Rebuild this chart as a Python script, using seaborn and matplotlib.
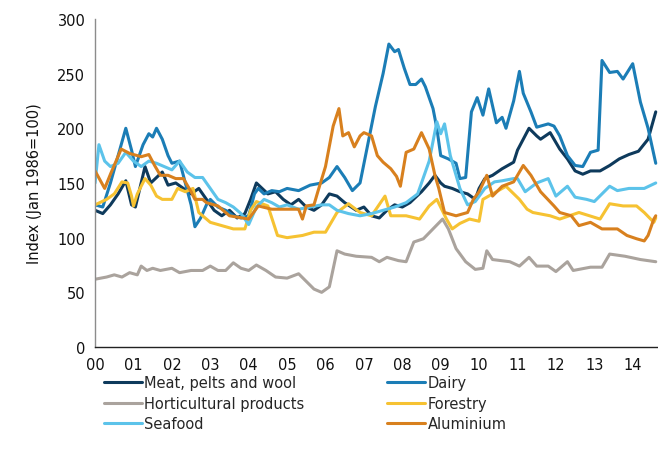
import matplotlib
matplotlib.use("Agg")
import matplotlib.pyplot as plt
import seaborn as sns
import pandas as pd

# ---- data (years since Jan 2000, index value) ----
meat_t = [0, 0.2, 0.4, 0.6, 0.8, 0.95, 1.05, 1.2, 1.3, 1.45, 1.6, 1.75, 1.9, 2.1, 2.3, 2.5, 2.7, 2.9, 3.1, 3.3, 3.5, 3.7, 3.9, 4.05, 4.2, 4.35, 4.5, 4.7, 4.9, 5.1, 5.3, 5.5, 5.7, 5.9, 6.1, 6.3, 6.5, 6.8, 7.0, 7.2, 7.4, 7.6, 7.8, 8.0, 8.2, 8.5, 8.7, 8.85, 9.0, 9.1, 9.3, 9.5, 9.7, 9.9, 10.0, 10.15, 10.35, 10.6, 10.9, 11.0, 11.15, 11.3, 11.5, 11.6, 11.85, 11.95, 12.1, 12.3, 12.5, 12.7, 12.9, 13.15, 13.4, 13.65, 13.9, 14.15, 14.4, 14.6]
meat_v = [125, 122, 130, 140, 152, 130, 128, 150, 165, 150, 155, 160, 148, 150, 145, 140, 145, 135, 125, 120, 125, 118, 122, 135, 150, 145, 140, 142, 135, 130, 135, 128, 125, 130, 140, 138, 132, 125, 128, 120, 118, 125, 130, 128, 132, 142, 150, 157, 150, 147, 145, 142, 140, 135, 145, 154, 157, 163, 169, 180, 190, 200, 193, 190, 196, 190, 181, 172, 161, 158, 161, 161, 166, 172, 176, 179, 190, 215]

dairy_t = [0, 0.2, 0.4, 0.6, 0.8, 0.95, 1.05, 1.25, 1.4, 1.5, 1.6, 1.75, 1.9, 2.0, 2.2, 2.35, 2.5, 2.6, 2.75, 2.9, 3.0, 3.2, 3.4, 3.6, 3.8, 4.0, 4.15, 4.25, 4.4, 4.6, 4.8, 5.0, 5.3, 5.6, 5.9, 6.1, 6.3, 6.5, 6.7, 6.9, 7.1, 7.3, 7.5, 7.65, 7.8, 7.9, 8.05, 8.2, 8.35, 8.5, 8.6, 8.8, 8.9, 9.0, 9.2, 9.4, 9.5, 9.65, 9.8, 9.95, 10.1, 10.25, 10.45, 10.6, 10.7, 10.9, 11.05, 11.15, 11.35, 11.5, 11.8, 11.95, 12.1, 12.3, 12.5, 12.7, 12.9, 13.1, 13.2, 13.4, 13.6, 13.75, 14.0, 14.2, 14.4, 14.6]
dairy_v = [130, 128, 150, 175, 200, 180, 165, 185, 195, 192, 200, 190, 175, 168, 170, 150, 130, 110, 118, 130, 135, 128, 125, 120, 118, 120, 140, 145, 140, 143, 142, 145, 143, 148, 150, 155, 165, 155, 143, 150, 185, 220, 250, 277, 270, 272, 255, 240, 240, 245, 238, 218, 200, 175, 172, 168, 154, 155, 215, 228, 212, 236, 205, 210, 200, 225, 252, 232, 215, 201, 204, 202, 193, 175, 166, 165, 178, 180, 262, 251, 252, 245, 259, 224, 200, 168]

horti_t = [0, 0.3, 0.5, 0.7, 0.9, 1.1, 1.2, 1.35, 1.5, 1.7, 2.0, 2.2, 2.5, 2.8, 3.0, 3.2, 3.4, 3.6, 3.8, 4.0, 4.2, 4.45, 4.7, 5.0, 5.3, 5.5, 5.7, 5.9, 6.1, 6.3, 6.5, 6.8, 7.2, 7.4, 7.6, 7.9, 8.1, 8.3, 8.55, 8.8, 9.05, 9.2, 9.4, 9.65, 9.9, 10.1, 10.2, 10.35, 10.8, 11.05, 11.3, 11.5, 11.8, 12.0, 12.3, 12.45, 12.9, 13.2, 13.4, 13.8, 14.2, 14.6]
horti_v = [62, 64, 66, 64, 68, 66, 74, 70, 72, 70, 72, 68, 70, 70, 74, 70, 70, 77, 72, 70, 75, 70, 64, 63, 67, 60, 53, 50, 55, 88, 85, 83, 82, 78, 82, 79, 78, 96, 99, 108, 117, 108, 90, 78, 71, 72, 88, 80, 78, 74, 82, 74, 74, 69, 78, 70, 73, 73, 85, 83, 80, 78]

forest_t = [0, 0.3, 0.5, 0.7, 0.85, 0.95, 1.0, 1.1, 1.3, 1.45, 1.6, 1.75, 2.0, 2.15, 2.35, 2.55, 2.7, 3.0, 3.3, 3.6, 3.9, 4.05, 4.2, 4.5, 4.75, 5.0, 5.4, 5.7, 6.0, 6.3, 6.6, 6.9, 7.2, 7.55, 7.7, 8.1, 8.45, 8.7, 8.9, 9.15, 9.3, 9.5, 9.75, 10.0, 10.1, 10.45, 10.7, 11.05, 11.25, 11.4, 11.85, 12.1, 12.6, 13.15, 13.4, 13.75, 14.1, 14.3, 14.55, 14.6]
forest_v = [130, 135, 140, 151, 150, 138, 129, 140, 154, 148, 138, 135, 135, 145, 142, 145, 123, 114, 111, 108, 108, 125, 133, 129, 102, 100, 102, 105, 105, 123, 131, 123, 120, 138, 120, 120, 117, 129, 135, 117, 108, 113, 117, 115, 135, 142, 147, 135, 126, 123, 120, 117, 123, 117, 131, 129, 129, 123, 114, 118]

sea_t = [0, 0.1, 0.25, 0.4, 0.6, 0.8, 1.0, 1.2, 1.4, 1.6, 1.8, 2.0, 2.2, 2.4, 2.6, 2.8, 3.0, 3.2, 3.4, 3.6, 3.8, 4.0, 4.2, 4.4, 4.6, 4.8, 5.0, 5.3, 5.6, 5.9, 6.1, 6.3, 6.6, 6.9, 7.2, 7.5, 7.8, 8.1, 8.4, 8.7, 8.9, 9.0, 9.1, 9.25, 9.5, 9.7, 9.9, 10.15, 10.4, 10.6, 10.9, 11.0, 11.2, 11.5, 11.8, 12.0, 12.3, 12.5, 12.8, 13.0, 13.4, 13.6, 13.9, 14.3, 14.6]
sea_v = [150, 185, 170, 165, 168, 178, 170, 165, 170, 168, 165, 162, 170, 160, 155, 155, 145, 135, 132, 128, 122, 112, 128, 135, 132, 128, 130, 126, 128, 130, 130, 125, 122, 120, 122, 125, 128, 132, 140, 170, 206, 195, 204, 175, 145, 130, 133, 145, 151, 152, 154, 154, 142, 150, 154, 138, 147, 137, 135, 133, 147, 143, 145, 145, 150]

alu_t = [0, 0.25, 0.4, 0.68, 0.9, 1.2, 1.4, 1.55, 1.7, 1.9, 2.1, 2.3, 2.5, 2.6, 2.8, 2.9, 3.2, 3.5, 4.0, 4.25, 4.6, 5.0, 5.3, 5.4, 5.5, 5.7, 5.8, 6.0, 6.2, 6.35, 6.45, 6.6, 6.75, 6.9, 7.0, 7.2, 7.35, 7.5, 7.7, 7.85, 7.95, 8.1, 8.3, 8.5, 8.7, 8.85, 8.95, 9.1, 9.4, 9.7, 9.85, 10.0, 10.2, 10.35, 10.6, 10.9, 11.15, 11.35, 11.6, 11.95, 12.1, 12.4, 12.6, 12.9, 13.2, 13.6, 13.85, 14.1, 14.3, 14.4, 14.55, 14.6]
alu_v = [161, 145, 158, 181, 177, 174, 176, 166, 157, 157, 154, 154, 142, 135, 135, 132, 129, 120, 117, 129, 126, 126, 126, 117, 129, 130, 142, 165, 202, 218, 193, 196, 183, 193, 196, 193, 175, 169, 163, 156, 147, 178, 181, 196, 181, 157, 145, 123, 120, 123, 135, 142, 157, 138, 147, 151, 166, 157, 142, 129, 123, 120, 111, 114, 108, 108, 102, 99, 97, 102, 117, 120]

series_names = ["Meat, pelts and wool", "Dairy", "Horticultural products",
                "Forestry", "Seafood", "Aluminium"]
series_t = [meat_t, dairy_t, horti_t, forest_t, sea_t, alu_t]
series_v = [meat_v, dairy_v, horti_v, forest_v, sea_v, alu_v]
colors = ["#0e3a5c", "#1b7db6", "#aaa39d", "#f6c232", "#5cc3ea", "#d8801e"]

x_ticks = list(range(15))
x_labels = ["%02d" % i for i in x_ticks]
y_ticks = [0, 50, 100, 150, 200, 250, 300]

frames = []
for name, t, v in zip(series_names, series_t, series_v):
    frames.append(pd.DataFrame({"year": t, "value": v, "series": name}))
df = pd.concat(frames, ignore_index=True)

sns.set_style("white")
plt.rcParams["font.family"] = ["DejaVu Sans"]

fig = plt.figure(figsize=(6.58, 4.52), dpi=100)
ax = fig.add_axes([0.1445, 0.230, 0.855, 0.726])

sns.lineplot(data=df, x="year", y="value", hue="series", hue_order=series_names,
             palette=colors, estimator=None, linewidth=2.2, ax=ax, legend=False)

ax.set_xlim(0, 14.65)
ax.set_ylim(0, 300)
ax.set_xticks(x_ticks)
ax.set_xticklabels(x_labels)
ax.set_yticks(y_ticks)
ax.set_xlabel("")
ax.set_ylabel("Index (Jan 1986=100)", fontsize=10.5, color="#111111", labelpad=11)

for s in ["top", "right"]:
    ax.spines[s].set_visible(False)
for s in ["left", "bottom"]:
    ax.spines[s].set_color("#8c8c8c")
    ax.spines[s].set_linewidth(1.0)
ax.spines["bottom"].set_color("#222222")
ax.tick_params(axis="both", direction="out", length=4, width=1.0,
               colors="#111111", labelsize=10.5, pad=3)
ax.tick_params(axis="y", color="#8c8c8c")

lines = ax.get_lines()
handles = [lines[i] for i in [0, 2, 4, 1, 3, 5]]
labels = [series_names[i] for i in [0, 2, 4, 1, 3, 5]]
fig.legend(handles, labels, ncol=2, loc="upper left",
           bbox_to_anchor=(0.158, 0.168), frameon=False, fontsize=10.5,
           handlelength=2.6, handletextpad=0.15, columnspacing=5.7,
           labelspacing=0.38, borderaxespad=0, borderpad=0)

fig.savefig("out.png", dpi=100)
